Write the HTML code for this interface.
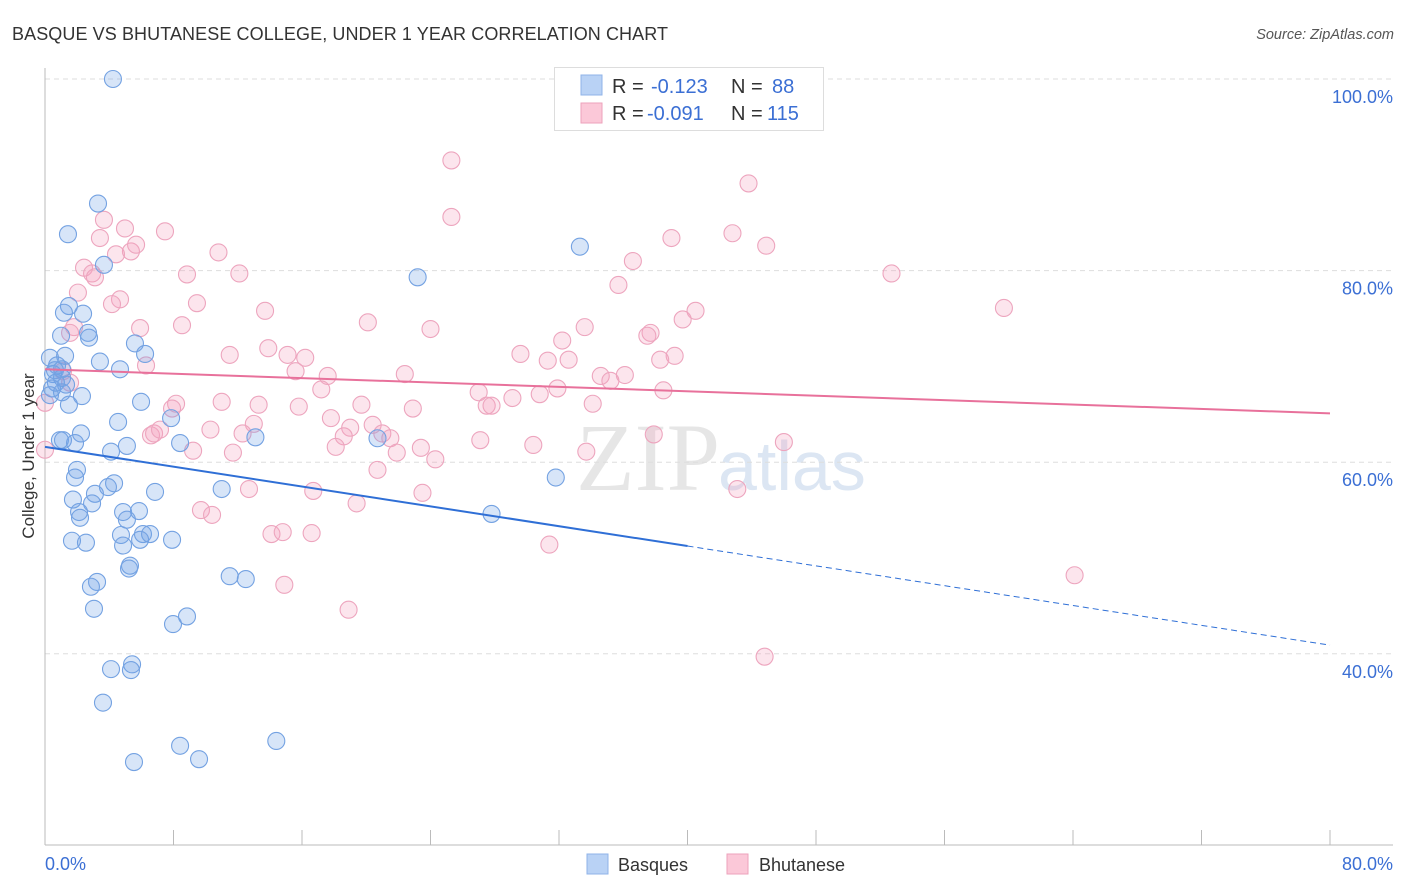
<!DOCTYPE html>
<html><head><meta charset="utf-8"><style>
body{margin:0;background:#fff;font-family:"Liberation Sans",sans-serif;}
#wrap{position:relative;width:1406px;height:892px;overflow:hidden;}
</style></head><body>
<div id="wrap">
<svg id="svg" width="1406" height="892" xmlns="http://www.w3.org/2000/svg">
<text x="12" y="40" font-size="18" fill="#333" textLength="656">BASQUE VS BHUTANESE COLLEGE, UNDER 1 YEAR CORRELATION CHART</text>
<text x="1394" y="39" font-size="14.5" fill="#555" font-style="italic" text-anchor="end">Source: ZipAtlas.com</text>
<text x="720" y="490" font-size="96" fill="#e6e6e6" font-family="Liberation Serif" text-anchor="end">ZIP</text>
<text x="718" y="490" font-size="70" fill="#dce6f3">atlas</text>
<g id="grid"></g>
<g id="pts"></g>
<g id="lines"></g>
<text x="34" y="456" font-size="17" fill="#333" text-anchor="middle" transform="rotate(-90 34 456)">College, Under 1 year</text>
<g>
<rect x="554.5" y="67.5" width="269" height="63" fill="#fff" stroke="#ddd"/>
<rect x="581" y="75" width="21" height="20" fill="#b9d2f5" stroke="#8fb3e8"/>
<rect x="581" y="103" width="21" height="20" fill="#fbc8d8" stroke="#eda2bb"/>
<text x="612" y="93" font-size="20" fill="#333">R =</text>
<text x="651" y="93" font-size="20" fill="#3b6fd4">-0.123</text>
<text x="731" y="93" font-size="20" fill="#333">N =</text>
<text x="772" y="93" font-size="20" fill="#3b6fd4">88</text>
<text x="612" y="120" font-size="20" fill="#333">R =</text>
<text x="647" y="120" font-size="20" fill="#3b6fd4">-0.091</text>
<text x="731" y="120" font-size="20" fill="#333">N =</text>
<text x="767" y="120" font-size="20" fill="#3b6fd4">115</text>
</g>
<g>
<rect x="587" y="854" width="21" height="20" fill="#b9d2f5" stroke="#8fb3e8"/>
<text x="618" y="871" font-size="18" fill="#333">Basques</text>
<rect x="727" y="854" width="21" height="20" fill="#fbc8d8" stroke="#eda2bb"/>
<text x="759" y="871" font-size="18" fill="#333">Bhutanese</text>
</g>
</svg>
</div>
<script>
const yTicks=[100,80,60,40];
const yTickLabels=["100.0%","80.0%","60.0%","40.0%"];
const xTickLabels=["0.0%","80.0%"];
const basqueX=[4.23,3.3,1.43,33.3,23.2,3.67,1.49,1.18,2.37,2.68,1.0,2.74,5.6,6.23,1.25,0.31,3.42,0.75,4.67,0.5,1.06,0.68,1.31,0.44,1.06,2.3,1.49,5.98,7.85,4.55,0.93,2.24,1.87,8.41,13.1,20.7,5.1,4.11,1.99,1.87,31.8,11.0,4.3,3.92,3.11,6.85,1.74,2.93,2.12,2.18,4.86,5.85,5.1,27.8,4.73,6.1,6.54,5.92,7.91,1.68,2.55,4.86,5.29,5.23,11.5,12.5,3.24,2.86,3.05,8.84,7.97,5.42,4.11,5.35,3.61,14.4,8.41,5.54,9.59,1.12,0.31,0.62,1.06];
const basqueY=[100,87.0,83.8,82.5,79.3,80.6,76.3,75.6,75.5,73.5,73.2,73.0,72.4,71.3,71.1,70.9,70.5,70.1,69.7,69.2,68.8,68.3,68.1,67.7,67.3,66.9,66.0,66.3,64.6,64.2,62.3,63.0,62.0,62.0,62.6,62.5,61.7,61.1,59.2,58.4,58.4,57.2,57.8,57.4,56.7,56.9,56.1,55.7,54.8,54.2,54.8,54.9,54.0,54.6,52.4,52.5,52.5,51.9,51.9,51.8,51.6,51.3,49.2,48.9,48.1,47.8,47.5,47.0,44.7,43.9,43.1,38.9,38.4,38.3,34.9,30.9,30.4,28.7,29.0,62.3,67.0,69.6,69.7];
const bhutX=[25.3,43.8,25.3,3.67,4.98,7.47,3.42,39.0,42.8,44.9,5.35,10.8,4.42,5.67,2.43,2.93,3.11,8.84,12.1,36.6,52.7,35.7,2.05,4.67,9.46,59.7,13.7,40.5,39.7,1.81,1.56,5.92,8.53,20.1,24.0,33.6,37.7,37.5,32.2,13.9,11.5,15.1,16.2,29.6,31.3,32.6,39.2,38.3,6.29,15.6,17.6,22.4,34.6,35.2,36.1,31.9,17.2,27.0,38.5,30.8,29.1,27.5,27.8,8.16,7.91,11.0,13.3,15.8,19.7,22.9,34.1,17.8,20.4,19.0,10.3,6.6,6.79,7.16,13.0,12.3,18.6,21.0,21.5,27.1,30.4,37.9,46.0,18.1,9.22,11.7,23.4,21.9,33.7,24.3,20.7,12.7,43.1,23.5,16.7,19.4,9.71,10.4,14.1,14.8,16.6,31.4,14.9,18.9,64.1,44.8,4.17,1.56,1.12,0,0];
const bhutY=[91.5,89.1,85.6,85.3,84.4,84.1,83.4,83.4,83.9,82.6,82.0,81.9,81.7,82.7,80.3,79.7,79.3,79.6,79.7,81.0,79.7,78.5,77.7,77.0,76.6,76.1,75.8,75.8,74.9,74.1,73.5,74.0,74.3,74.6,73.9,74.1,73.5,73.2,72.7,71.9,71.2,71.2,70.9,71.3,70.6,70.7,71.1,70.7,70.1,69.5,69.0,69.2,69.0,68.5,69.1,67.7,67.6,67.3,67.5,67.1,66.7,65.9,65.9,66.1,65.6,66.3,66.0,65.8,66.0,65.6,66.1,64.6,63.9,63.6,63.4,62.8,63.0,63.4,64.0,63.0,62.7,63.0,62.5,62.3,61.8,62.9,62.1,61.6,61.2,61.0,61.5,61.0,61.1,60.3,59.2,57.2,57.2,56.8,57.0,55.7,55.0,54.5,52.5,52.7,52.6,51.4,47.2,44.6,48.2,39.7,76.5,68.3,69.5,66.2,61.3];
const basqueTrend=[61.6,40.9];
const bhutTrend=[69.7,65.1];
const NS="http://www.w3.org/2000/svg";
function xs(v){return 45+v*16.0625;}
function ys(v){return 79+(100-v)*9.58;}
function mk(tag,attrs,parent){const e=document.createElementNS(NS,tag);for(const k in attrs)e.setAttribute(k,attrs[k]);parent.appendChild(e);return e;}
const grid=document.getElementById('grid');
yTicks.forEach((t,i)=>{
  const l=mk('line',{x1:45,x2:1393,y1:ys(t),y2:ys(t),stroke:'#ddd','stroke-dasharray':'5,4'},grid);
  
  
  const tx=mk('text',{x:1393,y:ys(t)+24,'font-size':18,fill:'#3b6fd4','text-anchor':'end'},grid);
  tx.textContent=yTickLabels[i];
  
  
});
const ax=mk('line',{x1:45,x2:45,y1:68,y2:845,stroke:'#bbb'},grid);


const bx=mk('line',{x1:45,x2:1393,y1:845,y2:845,stroke:'#bbb'},grid);


for(let i=1;i<=10;i++){
  const t=mk('line',{x1:xs(i*8),x2:xs(i*8),y1:830,y2:845,stroke:'#bbb'},grid);
  
  
}
const xl0=mk('text',{x:45,y:870,'font-size':18,fill:'#3b6fd4'},grid);xl0.textContent=xTickLabels[0];


const xl1=mk('text',{x:1393,y:870,'font-size':18,fill:'#3b6fd4','text-anchor':'end'},grid);xl1.textContent=xTickLabels[1];


const pts=document.getElementById('pts');
bhutX.forEach((x,i)=>{
  const c=mk('circle',{cx:xs(x),cy:ys(bhutY[i]),r:8.5,fill:'rgba(244,160,190,0.28)',stroke:'#eda5be','stroke-width':1.1},pts);
  
  
});
basqueX.forEach((x,i)=>{
  const c=mk('circle',{cx:xs(x),cy:ys(basqueY[i]),r:8.5,fill:'rgba(110,160,230,0.28)',stroke:'#74a2e2','stroke-width':1.1},pts);
  
  
});
const lines=document.getElementById('lines');
const bAt=v=>basqueTrend[0]+(basqueTrend[1]-basqueTrend[0])*v/80;
const l1=mk('line',{x1:xs(0),y1:ys(bAt(0)),x2:xs(40),y2:ys(bAt(40)),stroke:'#2f6fd6','stroke-width':2},lines);


const l2=mk('line',{x1:xs(40),y1:ys(bAt(40)),x2:xs(80),y2:ys(bAt(80)),stroke:'#2f6fd6','stroke-width':1,'stroke-dasharray':'6,4'},lines);


const l3=mk('line',{x1:xs(0),y1:ys(bhutTrend[0]),x2:xs(80),y2:ys(bhutTrend[1]),stroke:'#e8719b','stroke-width':2},lines);


</script>
</body></html>
